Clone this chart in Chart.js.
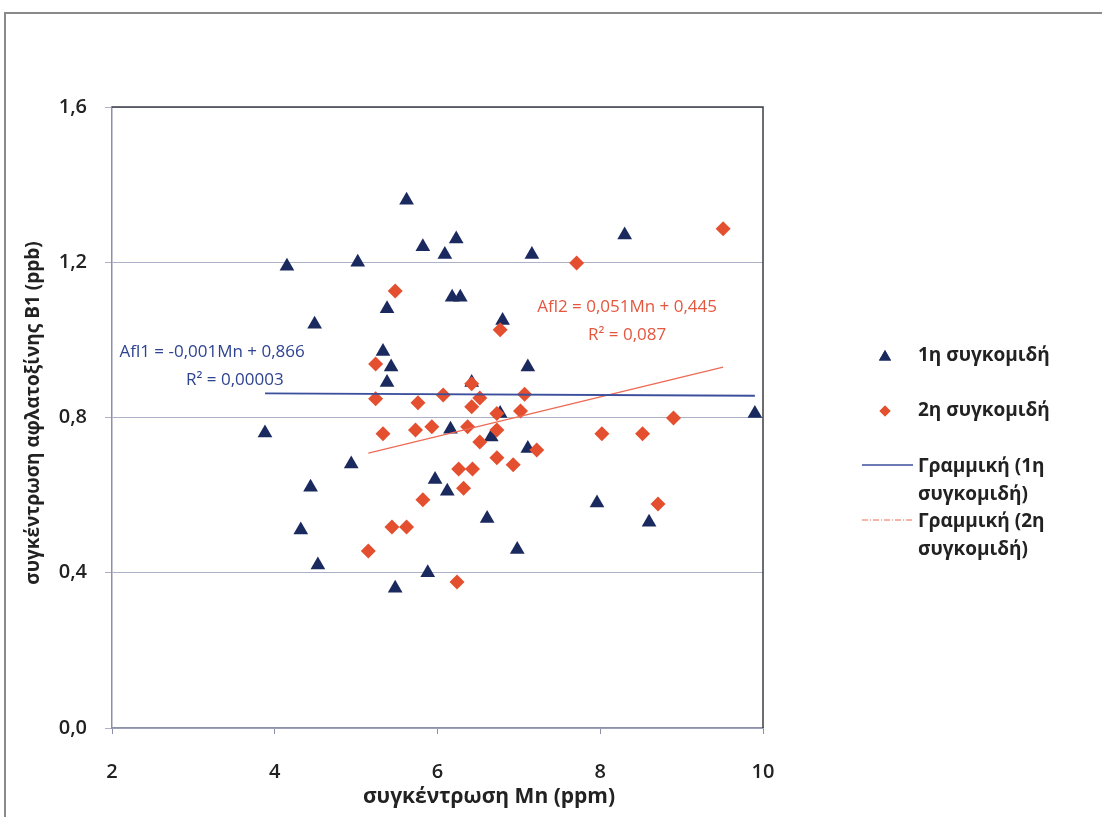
<!DOCTYPE html>
<html>
<head>
<meta charset="utf-8">
<script src="https://cdn.jsdelivr.net/npm/chart.js@4.4.1/dist/chart.umd.min.js"></script>
<style>
html, body { margin: 0; padding: 0; background: #fff; }
#wrap { position: relative; width: 1102px; height: 817px; }
</style>
</head>
<body>
<div id="wrap"><canvas id="mnChart" width="1102" height="817"></canvas></div>
<script>
// 1η συγκομιδή (triangles)
const harvest1X = [3.88, 4.15, 4.32, 4.44, 4.49, 4.53, 4.94, 5.02, 5.33, 5.38, 5.38, 5.43, 5.48, 5.62, 5.82, 5.88, 5.97, 6.09,
                   6.12, 6.16, 6.23, 6.18, 6.28, 6.42, 6.61, 6.66, 6.80, 6.77, 6.98, 7.11, 7.11, 7.16, 7.96, 8.30, 8.60, 9.90];
const harvest1Y = [0.76, 1.19, 0.51, 0.62, 1.04, 0.42, 0.68, 1.20, 0.97, 1.08, 0.89, 0.93, 0.36, 1.36, 1.24, 0.40, 0.64, 1.22,
                   0.61, 0.77, 1.26, 1.11, 1.11, 0.89, 0.54, 0.75, 1.05, 0.81, 0.46, 0.72, 0.93, 1.22, 0.58, 1.27, 0.53, 0.81];

// 2η συγκομιδή (diamonds)
const harvest2X = [5.24, 5.48, 5.24, 5.33, 5.73, 5.76, 5.93, 6.07, 5.82, 5.44, 5.62, 5.15, 6.24, 6.26, 6.43, 6.32, 6.37, 6.42,
                   6.52, 6.42, 6.52, 6.73, 6.73, 6.73, 6.77, 6.93, 7.02, 7.07, 7.22, 7.71, 8.02, 8.52, 8.71, 8.90, 9.51];
const harvest2Y = [0.938, 1.126, 0.848, 0.758, 0.768, 0.838, 0.776, 0.858, 0.588, 0.518, 0.518, 0.456, 0.376, 0.667, 0.667, 0.618, 0.776, 0.887,
                   0.850, 0.828, 0.737, 0.810, 0.768, 0.696, 1.026, 0.678, 0.817, 0.860, 0.716, 1.198, 0.758, 0.758, 0.577, 0.799, 1.286];

// trend line end points
const trend1X = [3.88, 9.90];
const trend1Y = [0.862, 0.856];
const trend2X = [5.15, 9.51];
const trend2Y = [0.708, 0.930];

const xTicks = [2, 4, 6, 8, 10];
const yTicks = [0, 0.4, 0.8, 1.2, 1.6];

const navy = '#1b2a5e';
const orange = '#e4502f';
const blueLine = '#3b4f9c';
const redLine = '#ee6a55';
const FONT = "'Open Sans', sans-serif";

const toPoints = (xs, ys) => xs.map((x, i) => ({ x: x, y: ys[i] }));
const comma = v => String(v).replace('.', ',');

// frame, plot borders, legend, equations and axis titles
const decor = {
    id: 'decor',
    beforeDraw(chart) {
        const ctx = chart.ctx;
        ctx.save();
        ctx.fillStyle = '#fff';
        ctx.fillRect(0, 0, chart.width, chart.height);
        ctx.strokeStyle = '#8a8a8a';
        ctx.lineWidth = 2;
        ctx.beginPath();
        ctx.moveTo(5, chart.height);
        ctx.lineTo(5, 13);
        ctx.lineTo(chart.width, 13);
        ctx.stroke();
        ctx.restore();
    },
    afterDraw(chart) {
        const ctx = chart.ctx;
        const a = chart.chartArea;
        const xs = chart.scales.x, ys = chart.scales.y;
        ctx.save();
        // top and right border of plot area
        ctx.strokeStyle = '#3c3c46';
        ctx.lineWidth = 1.5;
        ctx.beginPath();
        ctx.moveTo(a.left, a.top);
        ctx.lineTo(a.right, a.top);
        ctx.lineTo(a.right, a.bottom);
        ctx.stroke();

        // equations
        ctx.textAlign = 'center';
        ctx.textBaseline = 'middle';
        ctx.font = '500 17px ' + FONT;
        ctx.fillStyle = '#2e4390';
        ctx.fillText('Afl1 = -0,001Mn + 0,866', xs.getPixelForValue(3.23), ys.getPixelForValue(0.969));
        ctx.fillText('R² = 0,00003', xs.getPixelForValue(3.51), ys.getPixelForValue(0.897));
        ctx.fillStyle = '#e4573e';
        ctx.fillText('Afl2 = 0,051Mn + 0,445', xs.getPixelForValue(8.33), ys.getPixelForValue(1.085));
        ctx.fillText('R² = 0,087', xs.getPixelForValue(8.33), ys.getPixelForValue(1.013));

        // axis titles
        ctx.fillStyle = '#222';
        ctx.font = 'bold 21px ' + FONT;
        ctx.fillText('συγκέντρωση Mn (ppm)', 489, 797);
        ctx.save();
        ctx.translate(34, 413);
        ctx.rotate(-Math.PI / 2);
        ctx.font = 'bold 19px ' + FONT;
        ctx.fillText('συγκέντρωση αφλατοξίνης Β1 (ppb)', 0, 0);
        ctx.restore();

        // legend
        const lx = 918;
        ctx.textAlign = 'left';
        ctx.fillStyle = navy;
        ctx.beginPath();
        Chart.helpers.drawPoint(ctx, { pointStyle: 'triangle', radius: 7, borderWidth: 0 }, 885, 357);
        ctx.fill();
        ctx.beginPath();
        ctx.fillStyle = orange;
        Chart.helpers.drawPoint(ctx, { pointStyle: 'rectRot', radius: 5.5, borderWidth: 0 }, 885, 411);
        ctx.fill();
        ctx.fillStyle = '#222';
        ctx.font = 'bold 19px ' + FONT;
        ctx.fillText('1η συγκομιδή', lx, 356);
        ctx.fillText('2η συγκομιδή', lx, 411);
        ctx.fillText('Γραμμική (1η', lx, 467);
        ctx.fillText('συγκομιδή)', lx, 495);
        ctx.fillText('Γραμμική (2η', lx, 522);
        ctx.fillText('συγκομιδή)', lx, 550);
        ctx.lineWidth = 1.5;
        ctx.strokeStyle = blueLine;
        ctx.beginPath();
        ctx.moveTo(862, 465);
        ctx.lineTo(913, 465);
        ctx.stroke();
        ctx.strokeStyle = redLine;
        ctx.lineWidth = 1;
        ctx.setLineDash([6, 2, 1, 2]);
        ctx.beginPath();
        ctx.moveTo(862, 520);
        ctx.lineTo(913, 520);
        ctx.stroke();
        ctx.restore();
    }
};

const ctx = document.getElementById('mnChart').getContext('2d');
const mnChart = new Chart(ctx, {
    type: 'scatter',
    data: {
        datasets: [
            {
                label: 'Γραμμική (1η συγκομιδή)',
                data: toPoints(trend1X, trend1Y),
                showLine: true,
                borderColor: blueLine,
                borderWidth: 1.8,
                pointRadius: 0,
                order: 0
            },
            {
                label: 'Γραμμική (2η συγκομιδή)',
                data: toPoints(trend2X, trend2Y),
                showLine: true,
                borderColor: redLine,
                borderWidth: 1.3,
                pointRadius: 0,
                order: 1
            },
            {
                label: '2η συγκομιδή',
                data: toPoints(harvest2X, harvest2Y),
                pointStyle: 'rectRot',
                pointRadius: 7.5,
                pointBackgroundColor: orange,
                pointBorderWidth: 0,
                order: 2
            },
            {
                label: '1η συγκομιδή',
                data: toPoints(harvest1X, harvest1Y),
                pointStyle: 'triangle',
                pointRadius: 8.5,
                pointBackgroundColor: navy,
                pointBorderWidth: 0,
                order: 3
            }
        ]
    },
    options: {
        responsive: false,
        animation: false,
        layout: { padding: { left: 0, top: 107, right: 339, bottom: 0 } },
        plugins: {
            legend: { display: false },
            tooltip: { enabled: false }
        },
        scales: {
            x: {
                type: 'linear',
                min: xTicks[0],
                max: xTicks[xTicks.length - 1],
                afterBuildTicks: s => { s.ticks = xTicks.map(v => ({ value: v })); },
                afterFit: s => { s.height = 89; },
                ticks: {
                    color: '#222',
                    font: { family: FONT, size: 20, weight: '600' },
                    padding: 26,
                    callback: v => comma(v)
                },
                grid: { drawOnChartArea: false, drawTicks: true, tickLength: 6, color: '#8c90a8' },
                border: { color: '#8c90a8', width: 1.5 }
            },
            y: {
                type: 'linear',
                min: yTicks[0],
                max: yTicks[yTicks.length - 1],
                afterBuildTicks: s => { s.ticks = yTicks.map(v => ({ value: v })); },
                afterFit: s => { s.width = 112; },
                ticks: {
                    color: '#222',
                    font: { family: FONT, size: 20, weight: '600' },
                    padding: 18,
                    callback: v => comma(v.toFixed(1))
                },
                grid: { color: '#adb1c8', tickLength: 7, lineWidth: 1 },
                border: { color: '#8c90a8', width: 1.5 }
            }
        }
    },
    plugins: [decor]
});
</script>
</body>
</html>
